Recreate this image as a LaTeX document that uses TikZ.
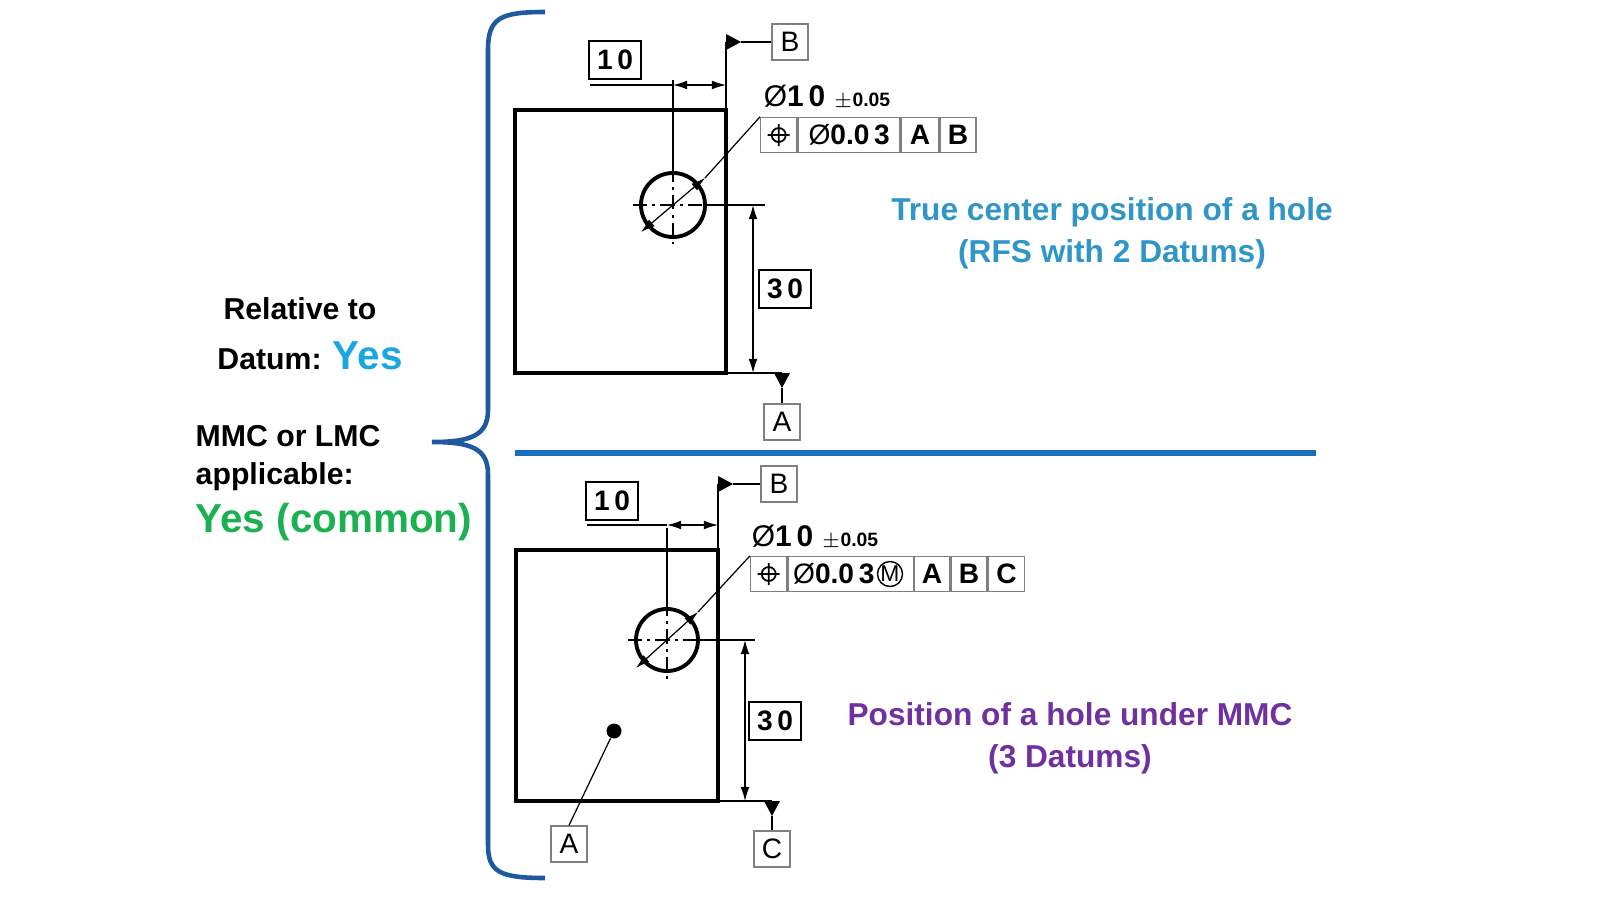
\documentclass[tikz,border=0pt]{standalone}
\usepackage{fontspec}
\setmainfont{Liberation Sans}
\usetikzlibrary{positioning,calc,arrows.meta}
\definecolor{bracecol}{RGB}{31,90,160}
\definecolor{ruleblue}{RGB}{25,110,190}
\definecolor{titleblue}{RGB}{48,150,200}
\definecolor{yescyan}{RGB}{26,167,224}
\definecolor{yesgreen}{RGB}{27,176,80}
\definecolor{mmcpurple}{RGB}{112,48,160}
\newcommand{\dia}{{\mdseries Ø}}
\tikzset{
  part/.style={draw,line width=1.1pt},
  thin/.style={draw,line width=0.35pt},
  centre/.style={draw,line width=0.3pt,dash pattern=on 4pt off 1.5pt on 0.8pt off 1.5pt},
  dimbox/.style={draw,line width=0.7pt,minimum width=0.52cm,minimum height=0.38cm,inner sep=0pt,font=\bfseries\fontsize{8}{9}\selectfont},
  datumbox/.style={draw=gray,line width=0.4pt,minimum size=0.36cm,inner sep=0pt,font=\fontsize{8}{9}\selectfont},
  cell/.style={draw=gray,line width=0.4pt,minimum height=0.35cm,inner sep=0pt,anchor=west,font=\bfseries\fontsize{8}{9}\selectfont},
  dimarrow/.style={thin,{Latex[length=4pt,width=2.5pt]}-{Latex[length=4pt,width=2.5pt]}},
  datumtri/.style={fill=black},
  label/.style={font=\bfseries\fontsize{8.6}{10}\selectfont,align=center}
}
\begin{document}
\begin{tikzpicture}[x=0.01cm,y=-0.01cm]
\useasboundingbox (0,0) rectangle (1600,900);
% brace and separator
\draw[bracecol,line width=1.3pt] (545,12) .. controls (500,12) and (488,18) .. (488,50)
  -- (488,410) .. controls (488,436) and (470,442) .. (432,442)
  .. controls (470,442) and (488,448) .. (488,474) -- (488,845)
  .. controls (488,872) and (500,878) .. (545,878);
\draw[ruleblue,line width=1.6pt] (515,453) -- (1316,453);
% left labels
\node[label] (rel) at (300,309) {Relative to};
\node[label,anchor=west] (dat) at (205,356) {Datum: \textcolor{yescyan}{\fontsize{11.5}{12}\selectfont Yes}};
\node[label,anchor=west,align=left,inner sep=0pt] (mmc) at (195,458) {MMC or LMC\\[1pt]applicable:};
\node[anchor=west,inner sep=0pt,text=yesgreen,font=\bfseries\fontsize{11.5}{12}\selectfont] (yes) at (195,522) {Yes (common)};
% titles
\node[label,text=titleblue,font=\bfseries\fontsize{9}{12}\selectfont] (t1) at (1112,233) {True center position of a hole\\(RFS with 2 Datums)};
\node[label,text=mmcpurple,font=\bfseries\fontsize{9}{12}\selectfont] (t2) at (1070,738) {Position of a hole under MMC\\(3 Datums)};

%% upper drawing
\draw[part] (515,110) rectangle (726,373);
\node[draw,circle,line width=1.1pt,minimum size=0.64cm,inner sep=0pt] (h1) at (673,205) {};
\draw[centre] (633,205) -- (713,205) (673,168) -- (673,244);
\draw[thin] (673,80) -- (h1.north);
\draw[thin] (590,85) -- (673,85);
\draw[dimarrow] (673,85) -- (726,85);
\draw[thin] (726,110) -- (726,42);
\node[dimbox] (d10a) at (615,60) {1\,0};
\node[datumbox] (Ba) at (790,42) {B};
\fill[datumtri] (726,34) -- (741,42) -- (726,50) -- cycle;
\draw[thin] (741,42) -- (Ba.west);
\node[font=\bfseries\fontsize{8.5}{9}\selectfont] (tol1) at (827,97) {\dia1\,0 \fontsize{5.5}{6}\selectfont$\pm$0.05};
\node[cell,minimum width=0.36cm] (s1) at (760,135) {};
\node[cell,minimum width=1.02cm,right=0pt of s1] (v1) {\dia0.0\,3};
\node[cell,minimum width=0.37cm,right=0pt of v1] (a1) {A};
\node[cell,minimum width=0.36cm,right=0pt of a1] (b1) {B};
\draw[line width=0.5pt] (s1.center) circle[radius=7] ++(-11,0) -- ++(22,0) (s1.center) ++(0,-11) -- ++(0,22);
\draw[thin] (s1.north west) -- (705,178);
\draw[dimarrow] (705,178) -- (641,232);
\draw[thin] (h1.east) -- (765,205) (726,373) -- (782,373);
\draw[dimarrow] (753,205) -- (753,373);
\node[dimbox] (d30a) at (785,289) {3\,0};
\fill[datumtri] (774,373) -- (790,373) -- (782,388) -- cycle;
\node[datumbox] (Aa) at (782,422) {A};
\draw[thin] (782,388) -- (Aa.north);

%% lower drawing
\draw[part] (516,550) rectangle (718,801);
\node[draw,circle,line width=1.1pt,minimum size=0.62cm,inner sep=0pt] (h2) at (667,640) {};
\draw[centre] (628,640) -- (706,640) (667,602) -- (667,680);
\draw[thin] (667,528) -- (h2.north);
\draw[thin] (587,525) -- (667,525);
\draw[dimarrow] (667,525) -- (718,525);
\draw[thin] (718,550) -- (718,484);
\node[dimbox] (d10b) at (612,501) {1\,0};
\node[datumbox] (Bb) at (779,484) {B};
\fill[datumtri] (718,476) -- (733,484) -- (718,492) -- cycle;
\draw[thin] (733,484) -- (Bb.west);
\node[font=\bfseries\fontsize{8.5}{9}\selectfont] (tol2) at (815,537) {\dia1\,0 \fontsize{5.5}{6}\selectfont$\pm$0.05};
\node[cell,minimum width=0.36cm] (s2) at (750,574) {};
\node[cell,minimum width=1.25cm,right=0pt of s2,text width=1.15cm,align=left] (v2) {\dia0.0\,3};
\node[draw,circle,line width=0.4pt,inner sep=0pt,minimum size=0.25cm,font=\fontsize{6.5}{7}\selectfont] (mc) at (890,574) {M};
\node[cell,minimum width=0.35cm,right=0pt of v2] (a2) {A};
\node[cell,minimum width=0.36cm,right=0pt of a2] (b2) {B};
\node[cell,minimum width=0.36cm,right=0pt of b2] (c2) {C};
\draw[line width=0.5pt] (s2.center) circle[radius=7] ++(-11,0) -- ++(22,0) (s2.center) ++(0,-11) -- ++(0,22);
\draw[thin] (s2.north west) -- (698,612);
\draw[dimarrow] (698,612) -- (636,668);
\draw[thin] (h2.east) -- (755,640) (718,801) -- (772,801);
\draw[dimarrow] (745,640) -- (745,801);
\node[dimbox] (d30b) at (775,721) {3\,0};
\fill[datumtri] (764,801) -- (780,801) -- (772,816) -- cycle;
\node[datumbox] (Cb) at (772,849) {C};
\draw[thin] (772,816) -- (Cb.north);
\node[circle,fill,minimum size=0.15cm,inner sep=0pt] (pt) at (614,731) {};
\node[datumbox] (Ab) at (569,844) {A};
\draw[thin] (pt) -- (Ab.north);
\end{tikzpicture}
\end{document}
